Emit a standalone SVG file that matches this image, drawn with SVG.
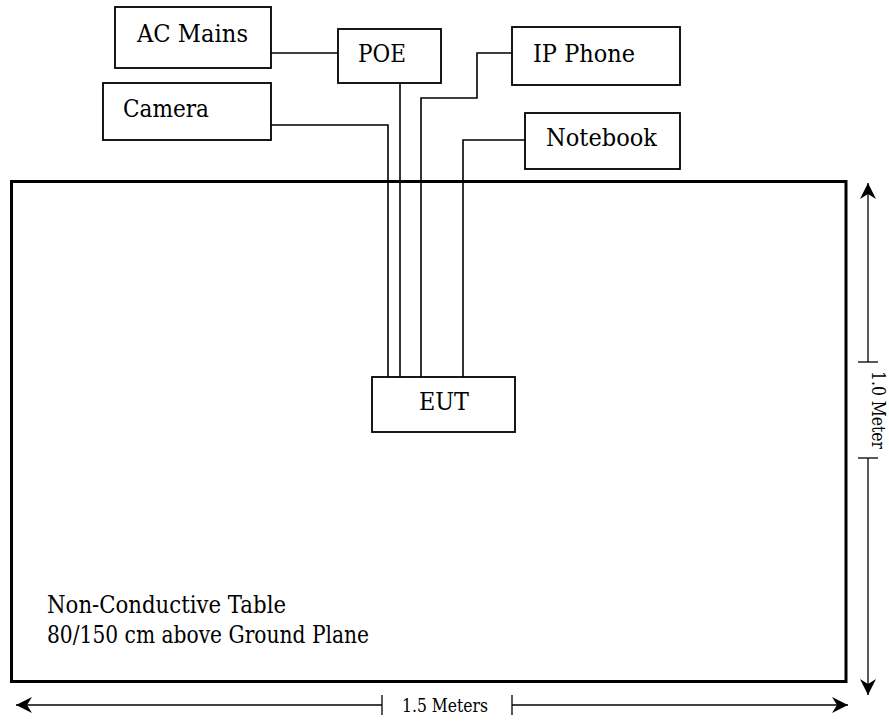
<svg xmlns="http://www.w3.org/2000/svg" width="889" height="721" viewBox="0 0 889 721">
<style>
.box{fill:#fff;stroke:#000;stroke-width:1.8}
.lbl{font-family:'DejaVu Serif',serif;font-size:24px;fill:#000}
.dim{font-family:'DejaVu Serif',serif;font-size:19px;fill:#000}
.wire{fill:none;stroke:#000;stroke-width:1.6}
.dl{fill:none;stroke:#000;stroke-width:1.3}
</style>
<defs>
<marker id="ah" viewBox="-18 -9 19 18" refX="0" refY="0" markerWidth="19" markerHeight="18" markerUnits="userSpaceOnUse" orient="auto-start-reverse">
<path d="M0,0 L-16,-8 L-11,0 L-16,8 Z" fill="#000"/>
</marker>
</defs>
<g id="table">
<rect x="11.5" y="181.5" width="834.5" height="500" fill="#fff" stroke="#000" stroke-width="3"/>
<text class="lbl" x="47" y="613" textLength="239" lengthAdjust="spacingAndGlyphs">Non-Conductive Table</text>
<text class="lbl" x="47" y="643" textLength="322" lengthAdjust="spacingAndGlyphs">80/150 cm above Ground Plane</text>
</g>
<g id="connectors">
<polyline class="wire" points="271,53 338,53"/>
<polyline class="wire" points="271,125 388,125 388,377"/>
<polyline class="wire" points="400,83 400,377"/>
<polyline class="wire" points="512,53 477,53 477,98 421,98 421,377"/>
<polyline class="wire" points="525,140 463,140 463,377"/>
</g>
<g id="ac-mains">
<rect class="box" x="115" y="7" width="156" height="61"/>
<text class="lbl" x="137" y="42" textLength="111" lengthAdjust="spacingAndGlyphs">AC Mains</text>
</g>
<g id="poe">
<rect class="box" x="338" y="29" width="103" height="54"/>
<text class="lbl" x="358" y="62" textLength="48" lengthAdjust="spacingAndGlyphs">POE</text>
</g>
<g id="camera">
<rect class="box" x="103" y="83" width="168" height="57"/>
<text class="lbl" x="123" y="117" textLength="86" lengthAdjust="spacingAndGlyphs">Camera</text>
</g>
<g id="ip-phone">
<rect class="box" x="512" y="27" width="168" height="58"/>
<text class="lbl" x="533" y="62" textLength="102" lengthAdjust="spacingAndGlyphs">IP Phone</text>
</g>
<g id="notebook">
<rect class="box" x="525" y="113" width="155" height="56"/>
<text class="lbl" x="546" y="146" textLength="111" lengthAdjust="spacingAndGlyphs">Notebook</text>
</g>
<g id="eut">
<rect class="box" x="372" y="377" width="143" height="55"/>
<text class="lbl" x="419" y="410" textLength="50" lengthAdjust="spacingAndGlyphs">EUT</text>
</g>
<g id="dimensions">
<line class="dl" x1="868" y1="362" x2="868" y2="183" marker-end="url(#ah)"/>
<line class="dl" x1="858" y1="362" x2="878" y2="362"/>
<line class="dl" x1="868" y1="458" x2="868" y2="695" marker-end="url(#ah)"/>
<line class="dl" x1="858" y1="458" x2="878" y2="458"/>
<text class="dim" transform="translate(872,371) rotate(90)" textLength="78" lengthAdjust="spacingAndGlyphs">1.0 Meter</text>
<line class="dl" x1="382" y1="705" x2="16" y2="705" marker-end="url(#ah)"/>
<line class="dl" x1="382" y1="695" x2="382" y2="715"/>
<line class="dl" x1="512" y1="705" x2="848" y2="705" marker-end="url(#ah)"/>
<line class="dl" x1="512" y1="695" x2="512" y2="715"/>
<text class="dim" x="402" y="712" textLength="86" lengthAdjust="spacingAndGlyphs">1.5 Meters</text>
</g>
</svg>
